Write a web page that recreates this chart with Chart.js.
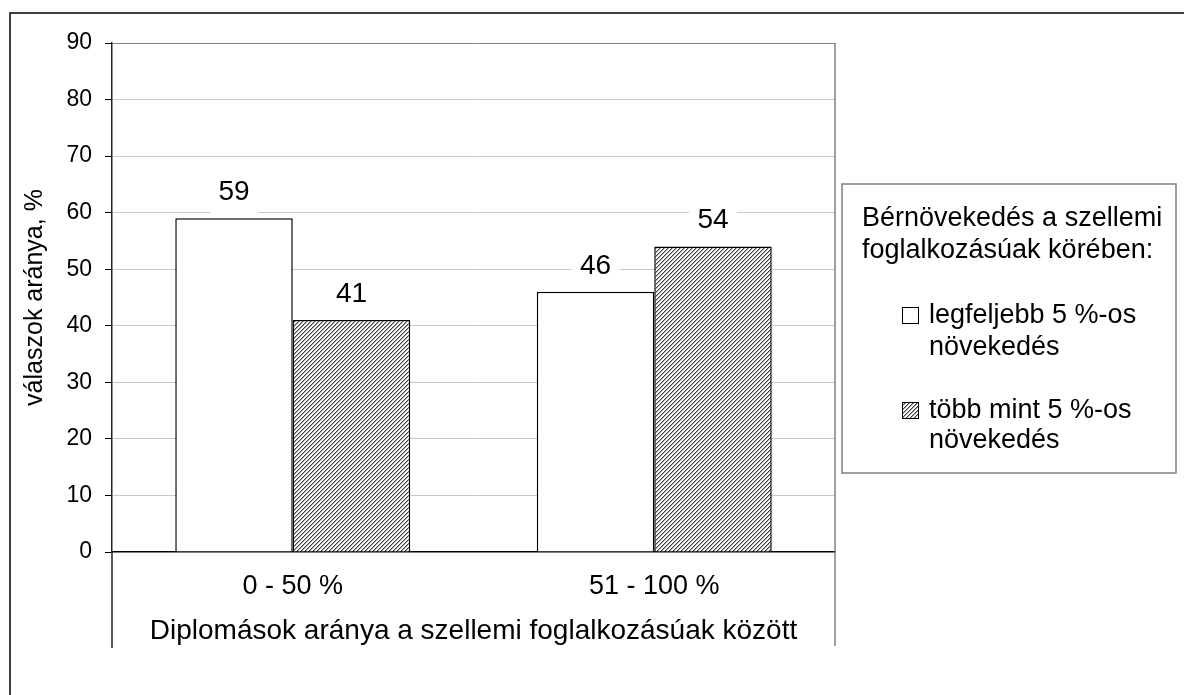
<!DOCTYPE html>
<html>
<head>
<meta charset="utf-8">
<title>Bérnövekedés a szellemi foglalkozásúak körében</title>
<script src="https://cdn.jsdelivr.net/npm/chart.js@4.4.0/dist/chart.umd.min.js"></script>
<style>
  html, body { margin: 0; padding: 0; background: #fff; }
  canvas { display: block; }
</style>
</head>
<body>
<canvas id="myChart" width="1184" height="695"></canvas>
<script>
const categories = ["0 - 50 %", "51 - 100 %"];
const seriesLabels = [
  ["legfeljebb 5 %-os", "növekedés"],
  ["több mint 5 %-os", "növekedés"],
];
const upTo5 = [59, 46];
const over5 = [41, 54];
const yTicks = [0, 10, 20, 30, 40, 50, 60, 70, 80, 90];
const xTitle = "Diplomások aránya a szellemi foglalkozásúak között";
const yTitle = "válaszok aránya, %";
const legendTitle = ["Bérnövekedés a szellemi", "foglalkozásúak körében:"];

const FAMILY = "'Liberation Sans', Arial, Helvetica, sans-serif";

const canvas = document.getElementById("myChart");
const ctx = canvas.getContext("2d");

// diagonal "/" hatch used for the second series
function makeHatch() {
  const tile = document.createElement("canvas");
  tile.width = 4;
  tile.height = 4;
  const g = tile.getContext("2d");
  g.fillStyle = "#fff";
  g.fillRect(0, 0, 4, 4);
  for (let i = 0; i < 4; i++) {
    g.fillStyle = "#3c3c3c";
    g.fillRect(i, 3 - i, 1, 1);
    g.fillStyle = "#a8a8a8";
    g.fillRect((i + 1) % 4, 3 - i, 1, 1);
  }
  return ctx.createPattern(tile, "repeat");
}
const hatch = makeHatch();

// value above each bar on a white box that hides the grid
const valueLabels = {
  id: "valueLabels",
  afterDatasetsDraw(chart) {
    const c = chart.ctx;
    c.save();
    c.font = "28px " + FAMILY;
    c.textAlign = "center";
    c.textBaseline = "middle";
    chart.data.datasets.forEach((ds, i) => {
      chart.getDatasetMeta(i).data.forEach((bar, j) => {
        const cy = bar.y - 26;
        c.fillStyle = "#fff";
        c.fillRect(bar.x - 24, cy - 16, 48, 39);
        c.fillStyle = "#000";
        c.fillText(String(ds.data[j]), bar.x, cy);
      });
    });
    c.restore();
  },
};

// page frame, axis extensions and the legend box
const frame = {
  id: "frame",
  afterDraw(chart) {
    const c = chart.ctx;
    const a = chart.chartArea;
    c.save();

    c.strokeStyle = "#000";
    c.lineWidth = 1.5;
    c.beginPath();
    c.moveTo(10, 695);
    c.lineTo(10, 13);
    c.lineTo(1184, 13);
    c.stroke();

    c.strokeStyle = "#808080";
    c.lineWidth = 1.5;
    c.beginPath();
    c.moveTo(a.right, a.top);
    c.lineTo(a.right, 646);
    c.stroke();

    c.strokeStyle = "#222";
    c.lineWidth = 1.5;
    c.beginPath();
    c.moveTo(a.left, a.bottom);
    c.lineTo(a.left, 648);
    c.stroke();

    // legend
    c.strokeStyle = "#808080";
    c.lineWidth = 1.5;
    c.strokeRect(842, 184, 334, 289);

    c.font = "27px " + FAMILY;
    c.fillStyle = "#000";
    c.textAlign = "left";
    c.textBaseline = "alphabetic";
    c.fillText(legendTitle[0], 862, 226);
    c.fillText(legendTitle[1], 862, 258);

    const rows = [[323, 355], [418, 448]];
    chart.data.datasets.forEach((ds, i) => {
      const [b1, b2] = rows[i];
      c.fillStyle = ds.backgroundColor;
      c.fillRect(902, b1 - 16, 17, 17);
      c.strokeStyle = "#000";
      c.lineWidth = 1;
      c.strokeRect(902.5, b1 - 15.5, 16, 16);
      c.fillStyle = "#000";
      c.fillText(seriesLabels[i][0], 929, b1);
      c.fillText(seriesLabels[i][1], 929, b2);
    });
    c.restore();
  },
};

new Chart(ctx, {
  type: "bar",
  data: {
    labels: categories,
    datasets: [
      {
        label: seriesLabels[0].join(" "),
        data: upTo5,
        backgroundColor: "#fff",
        borderColor: "#000",
        borderWidth: 1.5,
      },
      {
        label: seriesLabels[1].join(" "),
        data: over5,
        backgroundColor: hatch,
        borderColor: "#000",
        borderWidth: 1.5,
      },
    ],
  },
  options: {
    responsive: false,
    animation: false,
    events: [],
    layout: { padding: { top: 43, right: 349, bottom: 0, left: 0 } },
    datasets: { bar: { categoryPercentage: 0.65, barPercentage: 1 } },
    plugins: {
      legend: { display: false },
      tooltip: { enabled: false },
    },
    scales: {
      x: {
        afterFit: (s) => { s.height = 143; },
        grid: { display: false },
        border: { display: true, color: "#000", width: 1.5 },
        ticks: { color: "#000", font: { family: FAMILY, size: 27 }, padding: 10 },
        title: {
          display: true,
          text: xTitle,
          color: "#000",
          font: { family: FAMILY, size: 28 },
          padding: { top: 0, bottom: 47 },
        },
      },
      y: {
        min: 0,
        max: 90,
        afterFit: (s) => { s.width = 112; },
        afterBuildTicks: (s) => { s.ticks = yTicks.map((v) => ({ value: v })); },
        grid: {
          color: (c) => c.tick.value === 90 ? "#808080" : (c.tick.value === 0 ? "rgba(0,0,0,0)" : "#c8c8c8"),
          tickColor: "#000",
          tickLength: 7,
          lineWidth: 1,
        },
        border: { color: "#222", width: 1.5 },
        ticks: { color: "#000", font: { family: FAMILY, size: 23 }, padding: 13 },
        title: {
          display: true,
          text: yTitle,
          color: "#000",
          font: { family: FAMILY, size: 25 },
          padding: { top: 20, bottom: 0 },
        },
      },
    },
  },
  plugins: [valueLabels, frame],
});
</script>
</body>
</html>
